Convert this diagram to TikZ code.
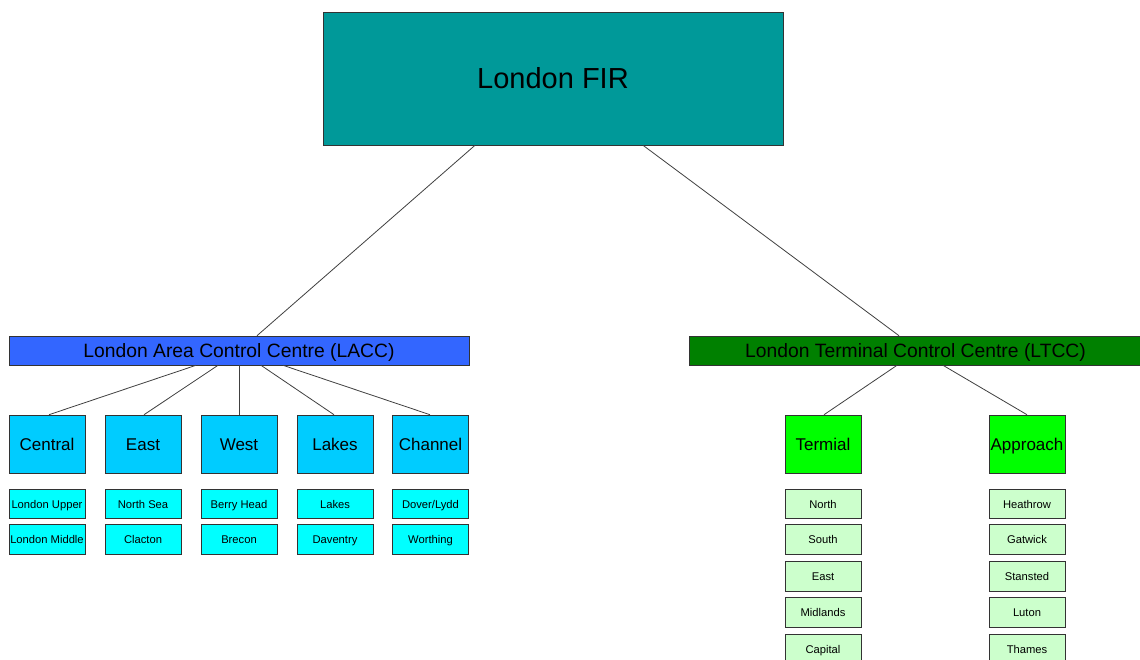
\documentclass[tikz,border=0pt]{standalone}
\usepackage{fontspec}
\setmainfont{Liberation Sans}
\usetikzlibrary{positioning}
\definecolor{firteal}{HTML}{009999}
\definecolor{laccblue}{HTML}{3366FF}
\definecolor{ltccgreen}{HTML}{008000}
\definecolor{sectorblue}{HTML}{00CCFF}
\definecolor{subcyan}{HTML}{00FFFF}
\definecolor{brightgreen}{HTML}{00FF00}
\definecolor{palegreen}{HTML}{CCFFCC}
\definecolor{linkgray}{HTML}{404040}
\tikzset{
  box/.style={draw=black!80, line width=0.6pt, rectangle, inner sep=0pt, align=center, text depth=0pt},
  firbox/.style={box, fill=firteal, minimum width=460pt, minimum height=133pt,
    font=\fontsize{29}{34}\selectfont, text height=20.8pt},
  centrebar/.style={box, minimum height=29pt, font=\fontsize{19.3}{22}\selectfont, text height=13.8pt},
  groupbox/.style={box, minimum width=76pt, minimum height=58pt, font=\fontsize{17}{20}\selectfont, text height=12.2pt},
  leafbox/.style={box, minimum width=76pt, minimum height=29.5pt, font=\fontsize{11.2}{13}\selectfont, text height=8pt},
  link/.style={draw=linkgray, line width=0.8pt}
}
\begin{document}
\begin{tikzpicture}[x=1pt,y=-1pt]
\useasboundingbox (0,0) rectangle (1140,659);
\clip (0,0) rectangle (1140,659);
\fill[white] (0,0) rectangle (1140,659);

% top level
\node[firbox] (fir) at (553,78.5) {London FIR};

% the two control centres
\node[centrebar, fill=laccblue, minimum width=460pt] (lacc) at (239,350.5) {London Area Control Centre (LACC)};
\node[centrebar, fill=ltccgreen, minimum width=453pt] (ltcc) at (915.5,350.5) {London Terminal Control Centre (LTCC)};

% LACC sectors
\node[groupbox, fill=sectorblue] (central) at (47,444) {Central};
\node[groupbox, fill=sectorblue] (east) at (143,444) {East};
\node[groupbox, fill=sectorblue] (west) at (239,444) {West};
\node[groupbox, fill=sectorblue] (lakes) at (335,444) {Lakes};
\node[groupbox, fill=sectorblue] (channel) at (430.5,444) {Channel};

\node[leafbox, fill=subcyan] (lupper) at (47,504) {London Upper};
\node[leafbox, fill=subcyan] (lmiddle) at (47,539.5) {London Middle};
\node[leafbox, fill=subcyan] (northsea) at (143,504) {North Sea};
\node[leafbox, fill=subcyan] (clacton) at (143,539.5) {Clacton};
\node[leafbox, fill=subcyan] (berry) at (239,504) {Berry Head};
\node[leafbox, fill=subcyan] (brecon) at (239,539.5) {Brecon};
\node[leafbox, fill=subcyan] (lakesleaf) at (335,504) {Lakes};
\node[leafbox, fill=subcyan] (daventry) at (335,539.5) {Daventry};
\node[leafbox, fill=subcyan] (dover) at (430.5,504) {Dover/Lydd};
\node[leafbox, fill=subcyan] (worthing) at (430.5,539.5) {Worthing};

% LTCC groups
\node[groupbox, fill=brightgreen] (termial) at (823,444) {Termial};
\node[groupbox, fill=brightgreen] (approach) at (1027,444) {Approach};

\node[leafbox, fill=palegreen] (north) at (823,504) {North};
\node[leafbox, fill=palegreen] (south) at (823,539.5) {South};
\node[leafbox, fill=palegreen] (tceast) at (823,576.5) {East};
\node[leafbox, fill=palegreen] (midlands) at (823,612.5) {Midlands};
\node[leafbox, fill=palegreen] (capital) at (823,649) {Capital};

\node[leafbox, fill=palegreen] (heathrow) at (1027,504) {Heathrow};
\node[leafbox, fill=palegreen] (gatwick) at (1027,539.5) {Gatwick};
\node[leafbox, fill=palegreen] (stansted) at (1027,576.5) {Stansted};
\node[leafbox, fill=palegreen] (luton) at (1027,612.5) {Luton};
\node[leafbox, fill=palegreen] (thames) at (1027,649) {Thames};

% connectors
\draw[link] ([xshift=-78pt]fir.south) -- ([xshift=18pt]lacc.north);
\draw[link] ([xshift=90pt]fir.south) -- ([xshift=-16.5pt]ltcc.north);

\draw[link] ([xshift=-43pt]lacc.south) -- ([xshift=2pt]central.north);
\draw[link] ([xshift=-21pt]lacc.south) -- ([xshift=1pt]east.north);
\draw[link] (lacc.south) -- (west.north);
\draw[link] ([xshift=22pt]lacc.south) -- ([xshift=-1pt]lakes.north);
\draw[link] ([xshift=44pt]lacc.south) -- ([xshift=-0.5pt]channel.north);

\draw[link] ([xshift=-18.5pt]ltcc.south) -- ([xshift=1pt]termial.north);
\draw[link] ([xshift=27.5pt]ltcc.south) -- (approach.north);
\end{tikzpicture}
\end{document}
